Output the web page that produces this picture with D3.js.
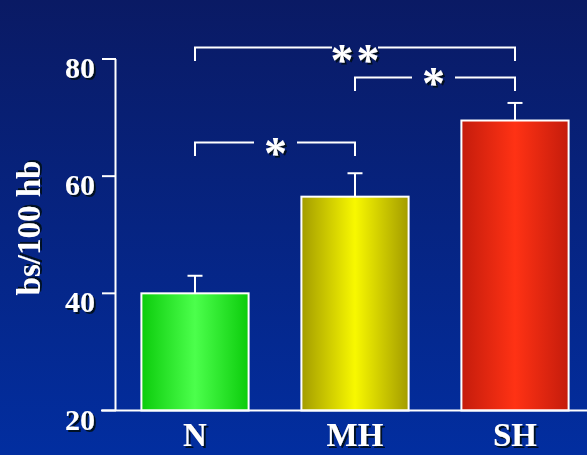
<!DOCTYPE html>
<html><head><meta charset="utf-8">
<script src="https://cdn.jsdelivr.net/npm/d3@7"></script>
<style>html,body{margin:0;padding:0;overflow:hidden;background:#0a2080}</style>
</head><body>
<svg id="chart" width="587" height="455"></svg>
<script>
const categories = ["N", "MH", "SH"];
const values = [40, 56.5, 69.5];
const errors = [3, 4, 3];
const yTicks = [20, 40, 60, 80];
const yTitle = "bs/100 hb";
const comparisons = [
  {from: "N", to: "SH", label: "**", level: 0},
  {from: "MH", to: "SH", label: "*", level: 1},
  {from: "N", to: "MH", label: "*", level: 2}
];
const barColors = [
  {edge: "#0ccc0c", mid: "#4cff4c"},
  {edge: "#a39c00", mid: "#f8f800"},
  {edge: "#c41c0c", mid: "#ff3214"}
];

const svg = d3.select("#chart");
const W = 587, H = 455;
const defs = svg.append("defs");
const bg = defs.append("linearGradient").attr("id","bg").attr("x1",0).attr("y1",0).attr("x2",0).attr("y2",1);
bg.append("stop").attr("offset","0%").attr("stop-color","#0a1a64");
bg.append("stop").attr("offset","100%").attr("stop-color","#022ea0");
svg.append("rect").attr("width",W).attr("height",H).attr("fill","url(#bg)");

const flt = defs.append("filter").attr("id","shadow").attr("x","-20%").attr("y","-20%").attr("width","140%").attr("height","140%");
flt.append("feDropShadow").attr("dx",2).attr("dy",2).attr("stdDeviation",0.6).attr("flood-color","#000814").attr("flood-opacity",0.9);

barColors.forEach((c,i)=>{
  const g = defs.append("linearGradient").attr("id","bar"+i).attr("x1",0).attr("x2",1).attr("y1",0).attr("y2",0);
  g.append("stop").attr("offset","0%").attr("stop-color",c.edge);
  g.append("stop").attr("offset","50%").attr("stop-color",c.mid);
  g.append("stop").attr("offset","100%").attr("stop-color",c.edge);
});

const x = d3.scaleBand().domain(categories).range([115, 595]).paddingInner(0.33).paddingOuter(0.165);
const y = d3.scaleLinear().domain([20, 80]).range([410.5, 59]);

const font = "'Liberation Serif','Times New Roman',serif";
function shadowText(g, txt, px, py, size, attrs) {
  const t = g.append("text").attr("x", px).attr("y", py).text(txt)
    .attr("fill", "#ffffff").attr("font-family", font).attr("font-weight", "bold").attr("font-size", size)
    .attr("filter", "url(#shadow)");
  Object.entries(attrs||{}).forEach(([k,v])=>t.attr(k,v));
  return t;
}

// bars
const bw = x.bandwidth();
svg.selectAll("rect.bar").data(categories).join("rect").attr("class","bar")
  .attr("x", d=>x(d)).attr("width", bw)
  .attr("y", (d,i)=>y(values[i])).attr("height", (d,i)=>y(20)-y(values[i]))
  .attr("fill", (d,i)=>"url(#bar"+i+")").attr("stroke","#ffffff").attr("stroke-width",2);

// error bars
categories.forEach((c,i)=>{
  const cx = x(c)+bw/2;
  svg.append("line").attr("x1",cx).attr("x2",cx).attr("y1",y(values[i])).attr("y2",y(values[i]+errors[i]))
    .attr("stroke","#fff").attr("stroke-width",2);
  svg.append("line").attr("x1",cx-7.5).attr("x2",cx+7.5).attr("y1",y(values[i]+errors[i])).attr("y2",y(values[i]+errors[i]))
    .attr("stroke","#fff").attr("stroke-width",2);
});

// axes
svg.append("line").attr("x1",115.5).attr("x2",115.5).attr("y1",y(80)).attr("y2",y(20)).attr("stroke","#fff").attr("stroke-width",2);
svg.append("line").attr("x1",101).attr("x2",W).attr("y1",y(20)).attr("y2",y(20)).attr("stroke","#fff").attr("stroke-width",2);
yTicks.forEach(t=>{
  svg.append("line").attr("x1",102).attr("x2",116).attr("y1",y(t)).attr("y2",y(t)).attr("stroke","#fff").attr("stroke-width",2);
  shadowText(svg, t, 95, y(t)+19, 30, {"text-anchor":"end"});
});
categories.forEach(c=>{
  shadowText(svg, c, x(c)+bw/2, 446, 33, {"text-anchor":"middle"});
});
// y title
const tg = svg.append("g").attr("transform","translate(40,228) rotate(-90)");
shadowText(tg, yTitle, 0, 0, 33, {"text-anchor":"middle"});

// significance brackets
const levelY = [47.5, 77.5, 142.5];
const starCx = [355, 433.5, 275.5];
const starCy = [54, 77, 147];
comparisons.forEach(cmp=>{
  const x1 = x(cmp.from)+bw/2, x2 = x(cmp.to)+bw/2;
  const ly = levelY[cmp.level];
  const gx = starCx[cmp.level];
  const half = cmp.label.length===2 ? 23 : 21.5;
  svg.append("path").attr("d", `M${x1},${ly+13.5}V${ly}H${gx-half}M${gx+half},${ly}H${x2}V${ly+13.5}`)
    .attr("fill","none").attr("stroke","#fff").attr("stroke-width",2);
  const two = cmp.label.length===2;
  shadowText(svg, cmp.label, two ? gx + 1.5 : gx, starCy[cmp.level] + 22, 46, {"text-anchor":"middle", "letter-spacing": two ? 3 : 0});
});
</script>
</body></html>
